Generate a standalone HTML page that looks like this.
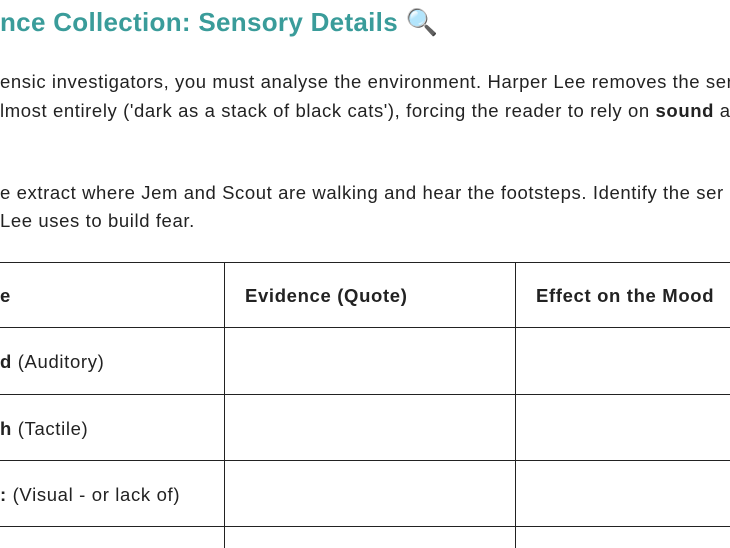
<!DOCTYPE html>
<html><head><meta charset="utf-8"><style>
body{margin:0;width:730px;height:548px;overflow:hidden;background:#fff;position:relative;font-family:"Liberation Sans",sans-serif;color:#222;}
.t{position:absolute;white-space:nowrap;}
.h{font-size:26px;font-weight:bold;color:#3a9c9a;left:0;top:7px;letter-spacing:0.3px}
.p{font-size:18.5px;left:0;letter-spacing:0.6px}
.hl{position:absolute;background:#222;height:1px;left:0;width:730px}
.vl{position:absolute;background:#222;width:1px;top:262px;height:286px}
.c{position:absolute;font-size:18.5px;white-space:nowrap;letter-spacing:0.65px}
</style></head><body>
<div class="t h">nce Collection: Sensory Details <span style="font-weight:normal">🔍</span></div>
<div class="t p" style="top:71px">ensic investigators, you must analyse the environment. Harper Lee removes the ser</div>
<div class="t p" style="top:100px">lmost entirely ('dark as a stack of black cats'), forcing the reader to rely on <b>sound</b> a</div>
<div class="t p" style="top:182px">e extract where Jem and Scout are walking and hear the footsteps. Identify the ser</div>
<div class="t p" style="top:210px">Lee uses to build fear.</div>
<div class="hl" style="top:262px"></div>
<div class="hl" style="top:327px"></div>
<div class="hl" style="top:394px"></div>
<div class="hl" style="top:460px"></div>
<div class="hl" style="top:526px"></div>
<div class="vl" style="left:224px"></div>
<div class="vl" style="left:515px"></div>
<div class="c" style="left:0;top:285px"><b>e</b></div>
<div class="c" style="left:245px;top:285px"><b>Evidence (Quote)</b></div>
<div class="c" style="left:536px;top:285px"><b>Effect on the Mood</b></div>
<div class="c" style="left:0;top:351px"><b>d</b> (Auditory)</div>
<div class="c" style="left:0;top:418px"><b>h</b> (Tactile)</div>
<div class="c" style="left:0;top:484px"><b>:</b> (Visual - or lack of)</div>
</body></html>
